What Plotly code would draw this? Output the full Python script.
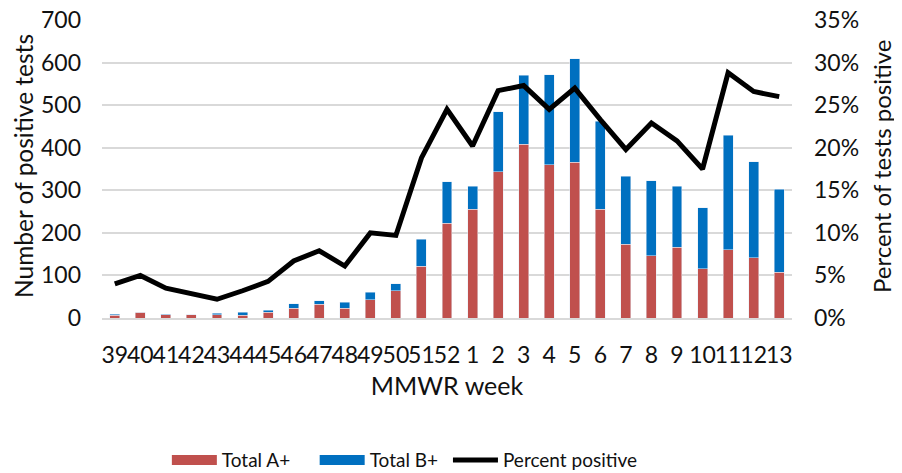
import plotly.graph_objects as go

weeks = ["39", "40", "41", "42", "43", "44", "45", "46", "47", "48", "49", "50", "51", "52",
         "1", "2", "3", "4", "5", "6", "7", "8", "9", "10", "11", "12", "13"]
total_a = [6, 14, 8, 8, 8, 7, 14, 23, 32, 23, 43, 64, 122, 222,
           255, 343, 408, 360, 366, 255, 173, 146, 166, 116, 160, 142, 108]
total_b = [3, 0, 1, 0, 3, 6, 4, 10, 8, 14, 17, 16, 63, 98,
           55, 142, 162, 211, 243, 207, 160, 176, 143, 143, 269, 225, 195]
pct_positive = [4.0, 5.0, 3.5, 2.9, 2.2, 3.2, 4.3, 6.7, 7.9, 6.1, 10.0, 9.7, 18.8, 24.5,
                20.2, 26.7, 27.3, 24.5, 27.0, 23.3, 19.8, 22.9, 20.8, 17.5, 28.8, 26.6, 26.0]

font_family = "Lato, 'Liberation Sans', sans-serif"
txt = "#111111"
red = "#C0504D"
blue = "#0070C0"
nbsp = "\u00a0"  # widens legend entries a bit, like the original spacing

fig = go.Figure()
fig.add_trace(go.Bar(x=weeks, y=total_a, name="Total A+", marker_color=red, showlegend=False))
fig.add_trace(go.Bar(x=weeks, y=total_b, name="Total B+", marker_color=blue, showlegend=False))
fig.add_trace(go.Scatter(x=weeks, y=[p / 100 for p in pct_positive], name="Percent positive",
                         mode="lines", line=dict(color="black", width=5), yaxis="y2",
                         showlegend=False))

# legend entries drawn as wide swatches like the Excel original
fig.add_trace(go.Scatter(x=[None], y=[None], mode="lines", name="Total A+" + nbsp * 4,
                         line=dict(color=red, width=13)))
fig.add_trace(go.Scatter(x=[None], y=[None], mode="lines", name="Total B+" + nbsp,
                         line=dict(color=blue, width=13)))
fig.add_trace(go.Scatter(x=[None], y=[None], mode="lines", name="Percent positive",
                         line=dict(color="black", width=5)))

# page body has an 8px margin, so the figure margins are shifted accordingly
fig.update_layout(
    width=902,
    height=473,
    barmode="stack",
    bargap=0.61,
    margin=dict(l=94, r=118, t=12, b=163, autoexpand=False),
    plot_bgcolor="white",
    paper_bgcolor="white",
    font=dict(family=font_family, size=23, color=txt),
    xaxis=dict(
        type="category",
        tickmode="array",
        tickvals=weeks,
        ticktext=weeks,
        tickangle=0,
        automargin=False,
        showgrid=False,
        showline=True,
        linecolor="#D9D9D9",
        linewidth=1.5,
        ticklabelstandoff=16,
        title=dict(text="MMWR week", standoff=10, font=dict(size=25)),
    ),
    yaxis=dict(
        range=[0, 700],
        dtick=100,
        automargin=False,
        showgrid=True,
        gridcolor="#D9D9D9",
        gridwidth=1.5,
        zeroline=False,
        ticklabelstandoff=20,
        ticklabeloverflow="allow",
    ),
    yaxis2=dict(
        overlaying="y",
        side="right",
        range=[0, 0.35],
        dtick=0.05,
        tickformat=".0%",
        automargin=False,
        showgrid=False,
        zeroline=False,
        ticklabelstandoff=21,
        ticklabeloverflow="allow",
    ),
    annotations=[
        dict(text="Number of positive tests", xref="paper", yref="paper",
             x=-0.1145, y=0.51, xanchor="center", yanchor="middle",
             textangle=-90, showarrow=False, font=dict(size=24.5)),
        dict(text="Percent of tests positive", xref="paper", yref="paper",
             x=1.129, y=0.51, xanchor="center", yanchor="middle",
             textangle=-90, showarrow=False, font=dict(size=24)),
    ],
    legend=dict(
        orientation="h",
        x=0.094,
        xanchor="left",
        y=-0.477,
        yanchor="middle",
        font=dict(size=19),
        itemwidth=45,
        traceorder="normal",
    ),
)

fig.write_html("out.html")
